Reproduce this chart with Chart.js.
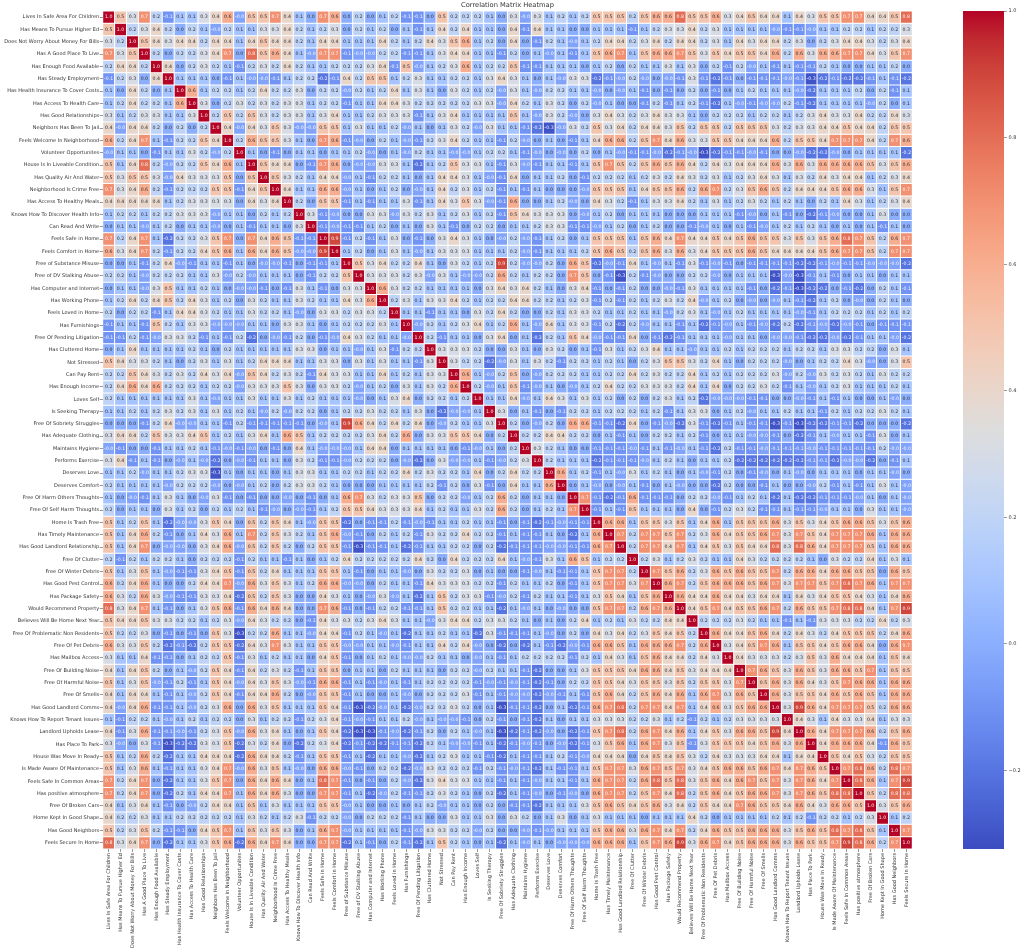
<!DOCTYPE html>
<html>
<head>
<meta charset="utf-8">
<title>Correlation Matrix Heatmap</title>
<script src="https://cdn.jsdelivr.net/npm/chart.js@4"></script>
<style>
  html, body { margin: 0; padding: 0; background: #fff; }
  canvas { position: absolute; top: 0; }
  #heatmap { left: 0; }
  #colorbar { left: 950px; }
</style>
</head>
<body>
<canvas id="heatmap" width="1024" height="952"></canvas>
<canvas id="colorbar" width="74" height="952"></canvas>
<script>
const categories = [
  "Lives In Safe Area For Children", "Has Means To Pursue Higher Ed", "Does Not Worry About Money For Bills",
  "Has A Good Place To Live", "Has Enough Food Available", "Has Steady Employment",
  "Has Health Insurance To Cover Costs", "Has Access To Health Care", "Has Good Relationships",
  "Neighbors Has Been To Jail", "Feels Welcome In Neighborhood", "Volunteer Opportunites",
  "House Is In Liveable Condition", "Has Quality Air And Water", "Neighborhood Is Crime Free",
  "Has Access To Healthy Meals", "Knows How To Discover Health Info", "Can Read And Write",
  "Feels Safe in Home", "Feels Comfort in Home", "Free of Substance Misuse", "Free of DV Stalking Abuse",
  "Has Computer and Internet", "Has Working Phone", "Feels Loved in Home", "Has Furnishings",
  "Free Of Pending Litigation", "Has Cluttered Home", "Not Stressed", "Can Pay Rent", "Has Enough Income",
  "Loves Self", "Is Seeking Therapy", "Free Of Sobriety Struggles", "Has Adequate Clothing", "Maintains Hygiene",
  "Performs Exercise", "Deserves Love", "Deserves Comfort", "Free Of Harm Others Thoughts",
  "Free Of Self Harm Thoughts", "Home Is Trash Free", "Has Timely Maintenance", "Has Good Landlord Relationship",
  "Free Of Clutter", "Free Of Winter Debris", "Has Good Pest Control", "Has Package Safety",
  "Would Recommend Property", "Believes Will Be Home Next Year", "Free Of Problematic Non Residents",
  "Free Of Pet Debris", "Has Mailbox Access", "Free Of Building Noise", "Free Of Harmful Noise", "Free Of Smells",
  "Has Good Landlord Comms", "Knows How To Report Tenant Issues", "Landlord Upholds Lease", "Has Place To Park",
  "House Was Move In Ready", "Is Made Aware Of Maintenance", "Feels Safe In Common Areas",
  "Has positive atmosphere", "Free Of Broken Cars", "Home Kept In Good Shape", "Has Good Neighbors",
  "Feels Secure In Home"
];

// lower triangle of the matrix; -.04 stands for a printed "-0.0"
const correlationRows = [
  [1],
  [.5,1],
  [.3,.2,1],
  [.7,.3,.5,1],
  [.2,.4,.4,.2,1],
  [-.1,.2,.3,0,.4,1],
  [.1,0,.4,.2,0,.1,1],
  [.1,.2,.4,.2,.2,.1,.6,1],
  [.3,.1,.2,.3,.3,.1,.1,.3,1],
  [.4,-.04,.4,.4,.2,0,.2,0,.2,1],
  [.6,.2,.4,.7,.1,-.1,.2,.2,.5,.4,1],
  [-.04,.1,.1,0,-.1,.1,.1,.3,.2,-.04,.2,1],
  [.5,.1,.4,.8,.2,-.04,.2,.2,.5,.4,.6,.1,1],
  [.5,.3,.5,.5,.3,-.04,.4,.3,.3,.3,.5,0,.5,1],
  [.7,.3,.4,.6,.2,-.1,.2,.2,.2,.5,.5,-.1,.4,.5,1],
  [.4,.4,.4,.4,.4,.1,.2,.3,.3,.3,.3,0,.4,.3,.4,1],
  [.1,.2,.2,.1,.2,.2,.3,.3,.3,-.04,.1,.1,0,.2,.1,.2,1],
  [0,.1,.1,-.04,.1,.2,0,.1,.1,-.04,0,.1,-.1,.1,.1,0,.3,1],
  [.7,.2,.4,.7,.1,-.2,.2,.2,.3,.5,.7,0,.7,.4,.6,.5,-.1,-.1,1],
  [.6,.3,.4,.7,.2,-.1,.2,.2,.4,.5,.6,.1,.6,.4,.6,.5,-.04,-.04,.9,1],
  [0,0,.1,-.1,.2,.4,-.04,-.1,.1,.1,-.1,.1,0,-.04,-.04,-.1,0,-.1,-.1,.1,1],
  [.2,.2,.1,-.04,.2,.2,.2,.1,.1,.3,-.04,.2,-.04,.1,.1,.1,0,-.1,.2,.2,.5,1],
  [0,.1,.1,-.04,.3,.5,.1,.1,.2,.1,0,-.04,-.04,-.1,0,-.1,.3,.1,-.1,0,.3,.3,1],
  [.1,.2,.4,.2,.4,.5,.2,.4,.3,.1,.2,0,.3,.2,.1,.1,.3,.2,.1,.1,.4,.3,.6,1],
  [.2,0,.2,.2,-.1,.1,.4,.4,.3,.2,.1,.1,.3,.2,.2,.1,-.04,0,.3,.3,.2,.3,.3,.2,1],
  [-.1,.1,.1,-.1,.5,.2,.1,.3,.3,-.04,-.04,-.04,.1,.1,0,.3,.3,.1,0,.1,.2,.2,.2,.3,.1,1],
  [-.1,-.1,.2,-.1,-.04,.3,.3,.2,-.1,.1,-.1,.2,-.2,0,-.04,-.1,.2,0,-.1,-.04,.4,.3,.2,.1,.1,-.04,1],
  [0,.1,.4,.1,.1,.1,.1,.2,.1,0,.2,.1,.1,.1,.1,.1,.3,.3,0,.1,.1,-.04,.1,.3,-.1,.2,.2,1],
  [.5,.4,.3,.3,.2,.1,0,.2,.3,.1,.3,.1,.2,.4,.4,.4,.1,.1,.3,.3,0,.3,.1,.3,.1,.1,-.1,.3,1],
  [.2,.2,.5,.4,.3,.2,.3,.2,.4,.3,.4,-.04,.5,.4,.2,.3,.2,-.1,.4,.3,.3,.1,.1,.4,.1,.2,.1,.3,.3,1],
  [.2,.4,.6,.4,.6,.2,.2,.2,.1,.2,.2,-.04,.3,.3,.3,.5,.3,0,.3,.3,.2,-.04,.1,.2,0,.3,.1,.3,.2,.6,1],
  [.2,.1,.1,.1,.1,.1,.1,.3,.1,-.04,.1,.1,.3,.1,.1,.3,.1,.2,.1,.1,.1,-.04,0,.1,.3,.4,0,.2,.2,.1,.2,1],
  [.1,.1,.2,.1,.2,.3,.2,.3,.1,.3,.1,.2,.1,-.04,.2,-.04,.2,.2,0,.1,.2,.2,.3,.2,.2,.1,.3,0,-.2,-.04,-.04,.1,1],
  [0,0,0,-.1,.2,.4,-.04,-.04,.1,.1,-.1,.2,-.1,-.1,-.1,-.1,-.1,0,-.04,.1,.9,.6,.4,.2,.4,.2,.4,0,-.04,.2,.1,.1,.3,1],
  [.3,.4,.4,.2,.5,.3,.3,.4,.5,.1,.2,.1,.3,.4,.1,.6,.5,.1,.2,.2,.2,.2,.3,.4,.2,.6,0,.3,.3,.5,.5,.4,0,.2,1],
  [-.04,-.1,0,0,-.1,.1,.1,.2,.1,-.1,-.04,-.1,-.04,0,-.1,0,.4,.1,-.04,-.04,-.04,.1,.4,.4,0,.1,.1,.1,.1,0,-.1,-.04,.1,0,.2,1],
  [.3,.4,-.1,.1,-.1,0,-.04,.1,-.04,-.2,0,-.04,-.1,.1,.1,0,.3,.2,-.1,-.1,-.04,.2,.2,.2,0,-.04,-.2,0,.3,-.04,-.04,.1,-.1,-.04,.2,.3,1],
  [.1,.1,.2,-.04,.1,.1,.2,.3,.3,-.3,.1,0,.1,.1,0,.1,.3,.3,.1,.1,.2,.2,.1,.2,.2,.4,.2,.3,.2,.2,.1,.4,0,.2,.4,.2,.2,1],
  [.2,.1,.1,.1,.1,-.04,.2,.2,.2,-.04,0,-.04,.1,.2,0,.2,.3,.3,.2,.1,0,0,0,.1,.1,.1,.1,.2,-.1,.2,0,.3,-.1,0,.4,.1,.1,.6,1],
  [.1,0,-.04,-.1,.1,.3,.1,0,-.04,.3,-.1,0,-.1,0,0,-.04,0,-.1,0,.1,.6,.7,.3,.2,.3,.3,.5,0,.2,.2,-.04,.1,.2,.6,.2,0,.1,.1,0,1],
  [.2,0,.1,.1,0,.3,.1,.2,0,.2,.1,.2,.1,-.1,-.04,0,-.04,-.1,.1,.2,.5,.5,.4,.3,.3,.3,.4,.1,.2,.1,.1,.3,.2,.6,.2,0,.1,.2,.1,.7,1],
  [.5,.1,.2,.5,.1,-.2,-.04,-.04,.3,.5,.4,0,.5,.2,.5,.4,.1,-.04,.5,.5,-.2,0,-.1,-.1,.2,-.1,-.04,-.1,.1,.1,.2,.1,.1,-.1,0,-.1,-.2,-.1,-.04,-.1,-.1,1],
  [.5,.1,.4,.6,.2,-.1,0,.1,.4,.3,.6,.1,.7,.2,.5,.3,.2,.1,.5,.6,-.04,-.1,0,.2,.1,.2,-.1,.3,.2,.2,.4,.2,.2,-.1,.1,-.1,-.1,.1,0,-.2,.1,.6,1],
  [.5,.1,.4,.7,0,-.04,-.04,0,.3,.4,.6,-.04,.5,.2,.5,.2,0,.2,.5,.5,-.1,-.3,-.1,-.1,.1,-.2,-.1,.1,.1,.2,.2,0,.2,-.2,-.1,-.1,-.1,-.04,-.04,-.1,-.1,.6,.7,1],
  [.2,-.1,.2,.1,.2,.2,.1,0,.2,.2,.2,-.1,.2,.1,.1,-.1,.1,0,.1,.2,.4,.2,.2,.2,.2,.2,.4,.2,0,.4,.2,.2,.2,.4,.1,-.04,-.1,.3,.1,.6,.5,.1,.2,.2,1],
  [.5,.1,.3,.5,.1,-.04,-.1,-.1,.3,.4,.5,-.1,.5,.2,.4,.1,.1,.1,.5,.5,.1,-.1,0,.1,.1,-.04,0,.3,.2,.2,.3,0,.1,0,0,-.1,-.04,.1,-.1,-.1,.1,.5,.7,.7,.2,1],
  [.6,.2,.4,.6,.1,0,0,.2,.4,.4,.7,-.04,.6,.3,.5,.3,.1,.2,.6,.6,-.04,-.04,0,.2,.1,.1,-.1,.4,.3,.3,.3,.2,.2,-.1,.2,.1,.1,.2,0,-.1,.1,.5,.7,.7,.3,.7,1],
  [.6,.3,.2,.6,.3,-.04,-.1,-.1,.3,.3,.4,-.2,.5,.2,.5,.3,0,0,.4,.3,.1,0,-.04,.3,-.04,.1,-.2,.1,.5,.2,.3,.3,-.1,-.04,.2,-.1,.2,.1,.1,-.1,.1,.3,.5,.4,.1,.5,.6,1],
  [.8,.3,.4,.7,.1,-.1,0,.1,.3,.5,.6,-.1,.6,.4,.6,.4,0,0,.7,.6,-.1,0,-.1,.2,.2,-.1,-.1,.1,.5,.2,.2,.1,.1,-.2,.1,-.04,.1,0,-.04,0,0,.5,.7,.7,.2,.6,.7,.6,1],
  [.5,.4,.4,.5,.3,.3,.2,.2,.1,.2,.3,-.04,.4,.3,.2,.2,0,-.1,.4,.3,.3,.2,.3,.4,.3,.1,.1,-.04,.3,.4,.4,.2,.3,.3,.2,.1,0,.1,0,.2,.4,.1,.2,.1,.3,.2,.2,.4,.4,1],
  [.5,.2,.2,.3,0,-.1,0,-.1,0,.5,.3,-.3,.2,.2,.6,.1,.1,-.04,.4,.4,-.1,.2,.1,-.04,.1,-.2,.1,.1,.2,.1,.1,-.2,.3,-.1,-.1,-.1,.1,-.04,0,.2,0,.4,.3,.4,.2,.3,.5,.4,.5,.2,1],
  [.6,.3,.3,.5,.2,-.2,-.1,-.2,.2,.5,.5,-.2,.4,.3,.7,.3,.1,.1,.5,.5,-.04,-.04,.1,.1,-.04,-.1,.1,.1,.4,.2,.4,-.04,0,-.2,0,-.2,.1,-.1,-.2,-.04,-.1,.6,.6,.5,.1,.6,.6,.6,.7,.2,.6,1],
  [.3,.1,.1,.4,-.1,-.1,0,.1,.2,.2,.5,-.1,.3,.1,.2,.1,.1,0,.4,.5,-.1,0,.1,.2,.1,-.04,-.04,.2,.1,.1,0,-.04,.1,-.1,.1,.2,.2,.2,.2,-.1,.2,.1,.4,.3,.1,.5,.6,.4,.4,.2,.4,.3,1],
  [.4,.1,.4,.5,.2,0,.1,-.04,.2,.5,.4,-.1,.4,.2,.3,.2,-.1,.1,.5,.5,0,.1,.1,0,.2,.1,.1,.1,0,.2,.2,-.04,.2,.1,.1,-.1,-.2,0,0,.1,.3,.5,.5,.5,.4,.6,.6,.4,.5,.3,.4,.4,.4,1],
  [.5,.1,.3,.5,-.04,-.1,.2,-.1,.1,.5,.4,-.04,.4,.3,.5,.3,-.04,-.1,.6,.6,-.1,.1,-.1,-.04,.1,-.1,.1,.2,.2,.2,.2,-.1,-.04,-.1,-.04,-.1,-.2,-.1,0,.2,.2,.5,.5,.4,.3,.5,.5,.3,.5,.2,.5,.5,.3,.7,1],
  [.4,.1,.4,.4,.1,-.1,.1,-.04,.2,.5,.4,-.1,.4,.4,.6,.2,0,-.04,.5,.5,-.1,.1,0,0,.1,-.04,0,.2,.2,.2,.3,-.1,.1,-.1,-.04,-.04,-.2,-.04,-.1,.1,-.1,.5,.6,.4,.2,.5,.6,.4,.6,.1,.6,.7,.3,.6,.5,1],
  [.4,-.04,.4,.6,-.1,-.1,.1,-.04,.2,.3,.6,0,.6,.3,.5,.1,.1,.1,.5,.4,-.1,-.3,-.2,-.04,.1,-.2,-.04,.2,.2,.3,.2,0,.1,-.3,-.1,-.1,-.2,0,.1,-.2,-.1,.6,.7,.8,.2,.7,.7,.4,.7,.1,.4,.6,.3,.5,.6,.6,1],
  [.1,-.1,.2,.2,.1,-.04,.1,.2,.1,.2,.2,0,.3,.1,.2,.2,-.1,.2,.3,.4,-.1,-.04,-.1,.1,.1,.2,-.04,.1,-.04,-.04,-.1,0,.2,-.1,0,-.1,-.2,.1,0,.1,.1,.3,.3,.3,.2,.2,.3,.1,.2,-.1,.2,.1,.2,.3,.3,.3,.3,1],
  [.4,-.1,.3,.6,-.1,-.1,-.04,-.1,.2,.3,.5,-.04,.6,.3,.4,.1,0,.1,.5,.4,-.2,-.3,-.3,-.1,-.04,-.2,-.1,.2,0,.2,.1,-.04,.1,-.3,-.2,-.1,-.2,-.04,0,-.2,-.1,.5,.7,.8,.2,.6,.7,.4,.6,.1,.4,.5,.3,.6,.6,.5,.9,.4,1],
  [.3,-.04,0,.3,-.1,-.3,-.2,-.2,.3,.3,.5,-.2,.3,.2,.4,0,-.2,.2,.3,.4,-.2,-.1,-.2,-.2,-.1,-.1,-.2,.2,.1,-.04,-.04,-.1,.1,-.2,-.1,-.04,-.1,0,-.04,-.2,-.1,.3,.5,.6,.1,.6,.7,.3,.5,-.1,.3,.5,.5,.5,.4,.5,.6,.3,.6,1],
  [.5,.1,.2,.6,.2,-.2,.1,.1,.4,.4,.4,-.2,.6,.4,.4,.2,-.1,.1,.5,.5,-.1,.1,-.2,.1,.1,-.04,-.2,.1,.2,.3,.1,.1,-.1,-.2,.1,-.1,-.1,.1,.2,-.1,-.04,.4,.4,.4,0,.4,.5,.4,.5,.3,.2,.4,.3,.3,.3,.4,.4,.1,.4,.4,1],
  [.5,.1,.3,.6,.1,-.1,.1,.1,.3,.4,.7,-.04,.6,.3,.5,.1,-.04,0,.6,.6,-.04,-.1,0,.2,.2,-.2,-.04,.3,.2,.2,.2,-.1,.2,-.1,-.04,-.1,-.2,.1,-.1,-.1,.1,.5,.7,.7,.3,.6,.7,.5,.7,.3,.4,.5,.6,.6,.5,.6,.7,.4,.7,.6,.5,1],
  [.7,.2,.4,.7,0,-.2,.1,.1,.3,.5,.7,0,.6,.4,.6,.4,0,.1,.8,.7,-.1,0,-.1,0,.2,-.04,-.2,.3,.4,.3,.3,.1,.1,-.1,.1,-.1,-.04,.1,.1,-.1,.1,.6,.7,.7,.2,.6,.8,.5,.8,.3,.5,.6,.4,.6,.7,.5,.7,.3,.7,.6,.4,.7,1],
  [.7,.2,.4,.7,0,-.2,.2,.1,.4,.4,.7,.1,.6,.4,.6,.3,0,0,.7,.7,-.1,.1,-.2,-.04,.2,-.1,-.1,.2,.3,.2,.1,0,.2,-.2,.1,-.1,-.04,0,-.1,-.04,0,.6,.7,.7,.2,.5,.7,.4,.8,.2,.5,.6,.4,.5,.6,.6,.7,.3,.7,.6,.5,.8,.8,1],
  [.4,.1,.3,.4,.1,-.1,0,-.04,.2,.4,.4,.1,.5,.1,.3,.1,.1,.1,.5,.5,-.04,.1,0,0,.1,0,.1,.2,-.04,.1,.1,0,.2,0,-.1,-.1,-.2,.1,.1,.1,.3,.5,.6,.5,.4,.5,.6,.3,.4,.2,.5,.4,.4,.7,.6,.5,.5,.4,.6,.4,.3,.6,.6,.5,1],
  [.4,.2,.2,.3,.1,.1,.2,.2,.2,.2,.2,.1,.3,.2,.1,.2,.3,-.1,.2,.2,-.04,0,.2,.2,.2,-.1,.1,0,0,.3,.1,.1,.3,0,.3,.2,0,.1,.3,0,.1,.3,.1,.1,.1,0,.1,.1,.1,.4,.2,0,.1,.1,.1,.1,.2,.1,.2,-.1,.2,.2,.1,.2,.3,1],
  [.5,.2,.3,.5,.2,-.1,-.1,0,.4,.5,.7,.1,.5,.3,.5,.3,0,.1,.6,.7,-.04,.1,.1,.1,.1,-.1,-.04,.3,.3,.2,.2,-.04,.2,0,0,-.04,-.1,-.04,.1,.1,.1,.5,.6,.6,.3,.6,.7,.4,.7,.2,.4,.6,.5,.5,.6,.6,.6,.3,.5,.6,.5,.8,.7,.8,.5,.1,1],
  [.8,.3,.4,.7,0,-.2,.1,.1,.3,.5,.6,-.2,.6,.4,.7,.4,0,0,.7,.7,-.2,.1,-.1,0,.2,-.1,-.2,.1,.5,.2,.1,0,.1,-.2,.1,-.04,.1,0,-.04,-.04,-.04,.6,.6,.6,.1,.5,.7,.6,.9,.3,.6,.7,.4,.5,.6,.6,.6,.3,.6,.5,.5,.7,.9,.8,.6,.2,.7,1]
];

const colorbarTicks = [1, 0.8, 0.6, 0.4, 0.2, 0, -0.2];
const colorMin = -0.324;
const colorMax = 1;

// matplotlib coolwarm, 33 evenly spaced stops
const coolwarmStops = [
  [59,76,192],[68,90,204],[77,104,215],[87,117,225],[98,130,234],[108,142,241],[119,154,247],[130,165,251],
  [141,176,254],[152,185,255],[163,194,255],[174,201,253],[184,208,249],[194,213,244],[204,217,238],[213,219,230],
  [221,221,221],[229,216,209],[236,211,197],[241,204,185],[244,196,173],[246,187,160],[247,177,148],[247,166,135],
  [244,154,123],[241,141,111],[236,127,99],[229,112,88],[222,96,77],[213,80,66],[203,62,56],[192,40,47],[180,4,38]
];

const FONT = '"DejaVu Sans", sans-serif';
const INK = "#333333";

function coolwarmRgb(t) {
  const pos = Math.min(Math.max(t, 0), 1) * (coolwarmStops.length - 1);
  const i = Math.min(Math.floor(pos), coolwarmStops.length - 2);
  const f = pos - i;
  return coolwarmStops[i].map((c, k) => c + (coolwarmStops[i + 1][k] - c) * f);
}

function valueRgb(v) {
  return coolwarmRgb((v - colorMin) / (colorMax - colorMin));
}

// same rule seaborn uses to pick the annotation colour
function luminance(rgb) {
  const lin = rgb.map((c) => {
    const s = c / 255;
    return s <= 0.03928 ? s / 12.92 : Math.pow((s + 0.055) / 1.055, 2.4);
  });
  return 0.2126 * lin[0] + 0.7152 * lin[1] + 0.0722 * lin[2];
}

function cellValue(row, col) {
  return row >= col ? correlationRows[row][col] : correlationRows[col][row];
}

const rowDatasets = categories.map((name, row) => {
  const values = categories.map((_, col) => cellValue(row, col));
  return {
    label: name,
    values,
    data: values.map(() => [row, row + 1]),
    backgroundColor: values.map((v) => {
      const c = valueRgb(v);
      return "rgb(" + c[0] + "," + c[1] + "," + c[2] + ")";
    }),
    borderColor: "#fff",
    borderWidth: 0.5,
    borderSkipped: false,
    inflateAmount: 0,
    grouped: false,
    barPercentage: 1,
    categoryPercentage: 1
  };
});

const cellLabels = {
  id: "cellLabels",
  afterDatasetsDraw(chart) {
    const ctx = chart.ctx;
    ctx.save();
    ctx.font = "4.7px " + FONT;
    ctx.textAlign = "center";
    ctx.textBaseline = "middle";
    chart.data.datasets.forEach((ds, d) => {
      chart.getDatasetMeta(d).data.forEach((bar, i) => {
        const v = ds.values[i];
        ctx.fillStyle = luminance(valueRgb(v)) > 0.408 ? INK : "rgba(255,255,255,0.9)";
        ctx.fillText(v.toFixed(1), bar.x, (bar.y + bar.base) / 2);
      });
    });
    ctx.restore();
  }
};

new Chart(document.getElementById("heatmap"), {
  type: "bar",
  data: { labels: categories, datasets: rowDatasets },
  plugins: [cellLabels],
  options: {
    responsive: false,
    animation: false,
    events: [],
    layout: { padding: { right: 111.7, left: 0, top: 0, bottom: 0 } },
    plugins: {
      legend: { display: false },
      tooltip: { enabled: false },
      title: {
        display: true,
        text: "Correlation Matrix Heatmap",
        color: INK,
        fullSize: false,
        padding: { top: 1.5, bottom: 1.5 },
        font: { family: FONT, size: 6.7, weight: "normal", lineHeight: 1.2 }
      }
    },
    scales: {
      x: {
        type: "category",
        offset: true,
        afterFit: (s) => { s.height = 103; },
        border: { display: false },
        grid: { offset: false, drawOnChartArea: false, tickLength: 3, tickWidth: 0.5, tickColor: INK },
        ticks: {
          autoSkip: false,
          maxRotation: 90,
          minRotation: 90,
          padding: 1,
          color: INK,
          font: { family: FONT, size: 5 }
        }
      },
      y: { type: "linear", min: 0, max: categories.length, reverse: true, display: false },
      rowNames: {
        type: "category",
        axis: "y",
        position: "left",
        labels: categories,
        offset: true,
        afterFit: (s) => { s.width = 102.7; },
        border: { display: false },
        grid: { offset: false, drawOnChartArea: false, tickLength: 3, tickWidth: 0.5, tickColor: INK },
        ticks: {
          autoSkip: false,
          padding: 0.5,
          color: INK,
          font: { family: FONT, size: 5 }
        }
      }
    }
  }
});

new Chart(document.getElementById("colorbar"), {
  type: "bar",
  data: {
    labels: [""],
    datasets: [{
      data: [[colorMin, colorMax]],
      borderWidth: 0,
      inflateAmount: 0,
      barPercentage: 1,
      categoryPercentage: 1,
      backgroundColor: (c) => {
        const area = c.chart.chartArea;
        if (!area) return "#ddd";
        const g = c.chart.ctx.createLinearGradient(0, area.bottom, 0, area.top);
        coolwarmStops.forEach((s, i) => {
          g.addColorStop(i / (coolwarmStops.length - 1), "rgb(" + s.join(",") + ")");
        });
        return g;
      }
    }]
  },
  options: {
    responsive: false,
    animation: false,
    events: [],
    layout: { padding: { left: 13, right: 0, top: 11.1, bottom: 103 } },
    plugins: { legend: { display: false }, tooltip: { enabled: false } },
    scales: {
      x: { display: false },
      y: {
        position: "right",
        min: colorMin,
        max: colorMax,
        afterBuildTicks: (s) => { s.ticks = colorbarTicks.map((value) => ({ value })); },
        afterFit: (s) => { s.width = 20; },
        border: { display: false },
        grid: { drawOnChartArea: false, tickLength: 3, tickWidth: 0.5, tickColor: INK },
        ticks: {
          padding: 1.5,
          color: INK,
          font: { family: FONT, size: 5 },
          callback: (v) => (v < 0 ? "\u2212" + Math.abs(v).toFixed(1) : v.toFixed(1))
        }
      }
    }
  }
});
</script>
</body>
</html>
